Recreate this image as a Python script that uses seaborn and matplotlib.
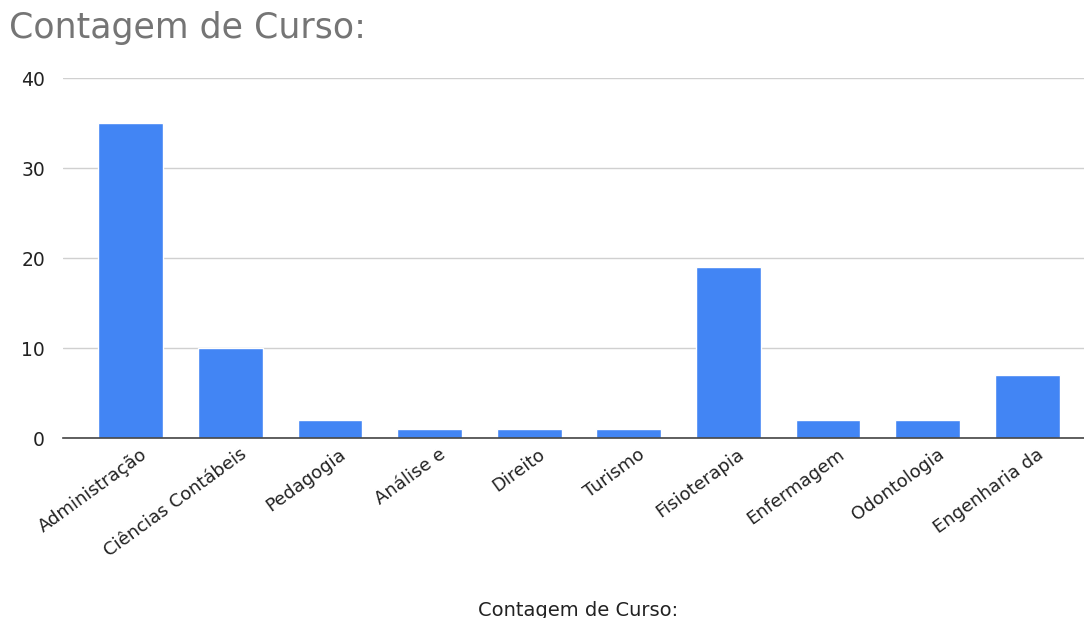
import matplotlib
matplotlib.use("Agg")
import matplotlib.pyplot as plt
from matplotlib.transforms import ScaledTranslation
import seaborn as sns
import pandas as pd

cursos = ["Administração", "Ciências Contábeis", "Pedagogia", "Análise e", "Direito",
          "Turismo", "Fisioterapia", "Enfermagem", "Odontologia", "Engenharia da"]
contagem = [35, 10, 2, 1, 1, 1, 19, 2, 2, 7]
y_ticks = [0, 10, 20, 30, 40]

sns.set_theme(style="white")
plt.rcParams["font.family"] = ["DejaVu Sans"]

df = pd.DataFrame({"curso": cursos, "contagem": contagem})

W, H = 1084, 618
fig = plt.figure(figsize=(W / 100, H / 100), dpi=100)
ax = fig.add_axes([63 / W, (H - 438) / H, (W - 63) / W, (438 - 78) / H])

sns.barplot(data=df, x="curso", y="contagem", color="#4285F4", saturation=1,
            width=0.65, ax=ax, zorder=3)

ax.set_ylim(0, 40)
ax.set_yticks(y_ticks)
ax.set_xlim(-0.68, 9.57)
ax.grid(axis="y", color="#d0d0d0", linewidth=1, zorder=0)
ax.grid(axis="x", visible=False)
for side in ["top", "right", "left"]:
    ax.spines[side].set_visible(False)
ax.spines["bottom"].set_color("#444444")
ax.spines["bottom"].set_linewidth(1.2)
ax.spines["bottom"].set_zorder(4)

ax.tick_params(axis="y", length=0, pad=13, labelsize=13.5, labelcolor="#222222")
ax.tick_params(axis="x", length=0, pad=5, labelsize=13, labelcolor="#222222")
offset = ScaledTranslation(9 / 100, 0, fig.dpi_scale_trans)
for lbl in ax.get_xticklabels():
    lbl.set_rotation(36)
    lbl.set_ha("right")
    lbl.set_va("top")
    lbl.set_rotation_mode("anchor")
    lbl.set_transform(lbl.get_transform() + offset)

ax.set_ylabel("")
ax.set_xlabel("Contagem de Curso:", fontsize=14, color="#222222", va="baseline")
ax.xaxis.set_label_coords(0.504, -0.494)

fig.text(9 / W, 1 - 28 / H, "Contagem de Curso:", fontsize=25, color="#757575",
         va="center", ha="left")

fig.savefig("out.png", dpi=100)
